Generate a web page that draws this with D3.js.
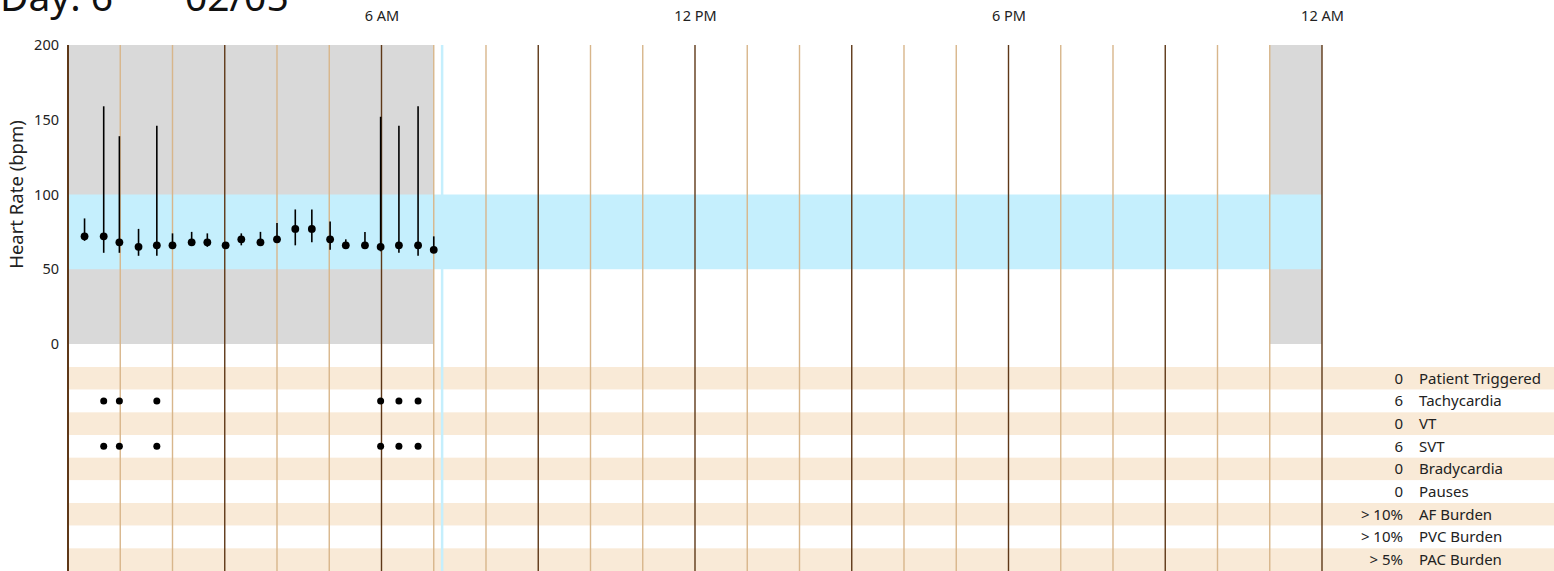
<!DOCTYPE html>
<html>
<head>
<meta charset="utf-8">
<script src="https://cdn.jsdelivr.net/npm/d3@7"></script>
<style>
  body { margin: 0; background: #fff; }
  svg { display: block; font-family: "Noto Sans", sans-serif; }
  .axis text { fill: #222; }
</style>
</head>
<body>
<div id="chart"></div>
<script type="text/javascript">
// heart rate summaries, minutes after midnight
var hrTimes = [19, 41, 59, 81, 102, 120, 142, 160, 181, 199, 221, 240, 261, 280, 301, 319, 341, 359, 380, 402, 420];
var hrAvg   = [72, 72, 68, 65, 66, 66, 68, 68, 66, 70, 68, 70, 77, 77, 70, 66, 66, 65, 66, 66, 63];
var hrMax   = [84, 159, 139, 77, 146, 74, 75, 74, 68, 74, 75, 81, 90, 90, 82, 70, 75, 152, 146, 159, 72];
var hrMin   = [69, 61, 61, 59, 59, 65, 66, 65, 64, 66, 67, 68, 66, 68, 63, 65, 65, 62, 61, 59, 62];

// shaded (no data) spans, hours
var greySpans = [[0, 7], [23, 24]];
var normalBand = [50, 100];
var nowHour = 7.16;

var yTicks = [0, 50, 100, 150, 200];
var hourTicks = [6, 12, 18, 24];
var hourLabels = ["6 AM", "12 PM", "6 PM", "12 AM"];

// event rows
var eventNames  = ["Patient Triggered", "Tachycardia", "VT", "SVT", "Bradycardia", "Pauses", "AF Burden", "PVC Burden", "PAC Burden"];
var eventCounts = ["0", "6", "0", "6", "0", "0", "> 10%", "> 10%", "> 5%"];
var tachyTimes = [41, 59, 102, 359, 380, 402];
var svtTimes   = [41, 59, 102, 359, 380, 402];

var width = 1554, height = 571;

var svg = d3.select("#chart").append("svg")
    .attr("width", width)
    .attr("height", height);

var x = d3.scaleLinear().domain([0, 24]).range([68, 1322]);
var y = d3.scaleLinear().domain([0, 200]).range([344, 45]);
var row = d3.scaleBand().domain(eventNames).range([367, 571]).padding(0);

//title
svg.append("text").attr("x", 0).attr("y", 11)
    .style("font-size", "39px").style("fill", "#111").text("Day: 6");
svg.append("text").attr("x", 185).attr("y", 11)
    .style("font-size", "39px").style("fill", "#111").text("02/05");

//event stripes
svg.append("g").selectAll("rect")
    .data(eventNames)
    .enter().append("rect")
    .attr("x", x(0))
    .attr("y", function (d) { return row(d); })
    .attr("width", width - x(0))
    .attr("height", row.bandwidth())
    .style("fill", function (d, i) { return i % 2 == 0 ? "#f9ead7" : "#fff"; });

//grey spans
svg.append("g").selectAll("rect")
    .data(greySpans)
    .enter().append("rect")
    .attr("x", function (d) { return x(d[0]); })
    .attr("y", y(200))
    .attr("width", function (d) { return x(d[1]) - x(d[0]); })
    .attr("height", y(0) - y(200))
    .style("fill", "#d9d9d9");

//normal range band
svg.append("rect")
    .attr("x", x(0))
    .attr("y", y(normalBand[1]))
    .attr("width", x(24) - x(0))
    .attr("height", y(normalBand[0]) - y(normalBand[1]))
    .style("fill", "#c5effd");

//hour lines
svg.append("g").selectAll("line")
    .data(d3.range(0, 25))
    .enter().append("line")
    .attr("x1", function (d) { return x(d); })
    .attr("x2", function (d) { return x(d); })
    .attr("y1", y(200))
    .attr("y2", height)
    .attr("stroke", function (d) { return d % 3 == 0 ? "#5e3818" : "#d8b68b"; })
    .attr("stroke-width", function (d) { return d == 0 ? 2 : 1.4; });

//now marker
svg.append("line")
    .attr("x1", x(nowHour)).attr("x2", x(nowHour))
    .attr("y1", y(200)).attr("y2", height)
    .attr("stroke", "#c5effd")
    .attr("stroke-width", 2.5);

//axes
var yAxis = svg.append("g")
    .attr("class", "axis")
    .attr("transform", "translate(" + x(0) + ",0)")
    .call(d3.axisLeft(y).tickValues(yTicks).tickSize(0).tickPadding(9));
yAxis.select(".domain").remove();
yAxis.selectAll("text").style("font-size", "14.5px").style("font-family", "Noto Sans");

var tAxis = svg.append("g")
    .attr("class", "axis")
    .attr("transform", "translate(0," + y(200) + ")")
    .call(d3.axisTop(x).tickValues(hourTicks).tickSize(0).tickPadding(24)
      .tickFormat(function (d, i) { return hourLabels[i]; }));
tAxis.select(".domain").remove();
tAxis.selectAll("text").style("font-size", "14.5px").style("font-family", "Noto Sans");

svg.append("text")
    .attr("transform", "translate(23," + y(100) + ") rotate(-90)")
    .attr("text-anchor", "middle")
    .style("font-size", "18.5px")
    .style("fill", "#222")
    .text("Heart Rate (bpm)");

//whiskers and dots
var hr = hrTimes.map(function (t, i) {
  return {t: t / 60, avg: hrAvg[i], max: hrMax[i], min: hrMin[i]};
});

svg.append("g").selectAll("line")
    .data(hr)
    .enter().append("line")
    .attr("x1", function (d) { return x(d.t); })
    .attr("x2", function (d) { return x(d.t); })
    .attr("y1", function (d) { return y(d.max); })
    .attr("y2", function (d) { return y(d.min); })
    .attr("stroke", "#000")
    .attr("stroke-width", 1.6);

svg.append("g").selectAll("circle")
    .data(hr)
    .enter().append("circle")
    .attr("cx", function (d) { return x(d.t); })
    .attr("cy", function (d) { return y(d.avg); })
    .attr("r", 3.9)
    .style("fill", "#000");

//event dots
function eventDots(times, name) {
  svg.append("g").selectAll("circle")
    .data(times)
    .enter().append("circle")
    .attr("cx", function (d) { return x(d / 60); })
    .attr("cy", row(name) + row.bandwidth() / 2)
    .attr("r", 3.5)
    .style("fill", "#000");
}
eventDots(tachyTimes, "Tachycardia");
eventDots(svtTimes, "SVT");

//event labels
var labels = svg.append("g").selectAll("g")
    .data(eventNames)
    .enter().append("g")
    .attr("transform", function (d) { return "translate(0," + (row(d) + row.bandwidth() / 2) + ")"; });

labels.append("text")
    .attr("x", 1403)
    .attr("dy", "0.35em")
    .attr("text-anchor", "end")
    .style("font-size", "15px")
    .style("fill", "#222")
    .text(function (d, i) { return eventCounts[i]; });

labels.append("text")
    .attr("x", 1419)
    .attr("dy", "0.35em")
    .style("font-size", "15px")
    .style("fill", "#222")
    .text(function (d) { return d; });
</script>
</body>
</html>
